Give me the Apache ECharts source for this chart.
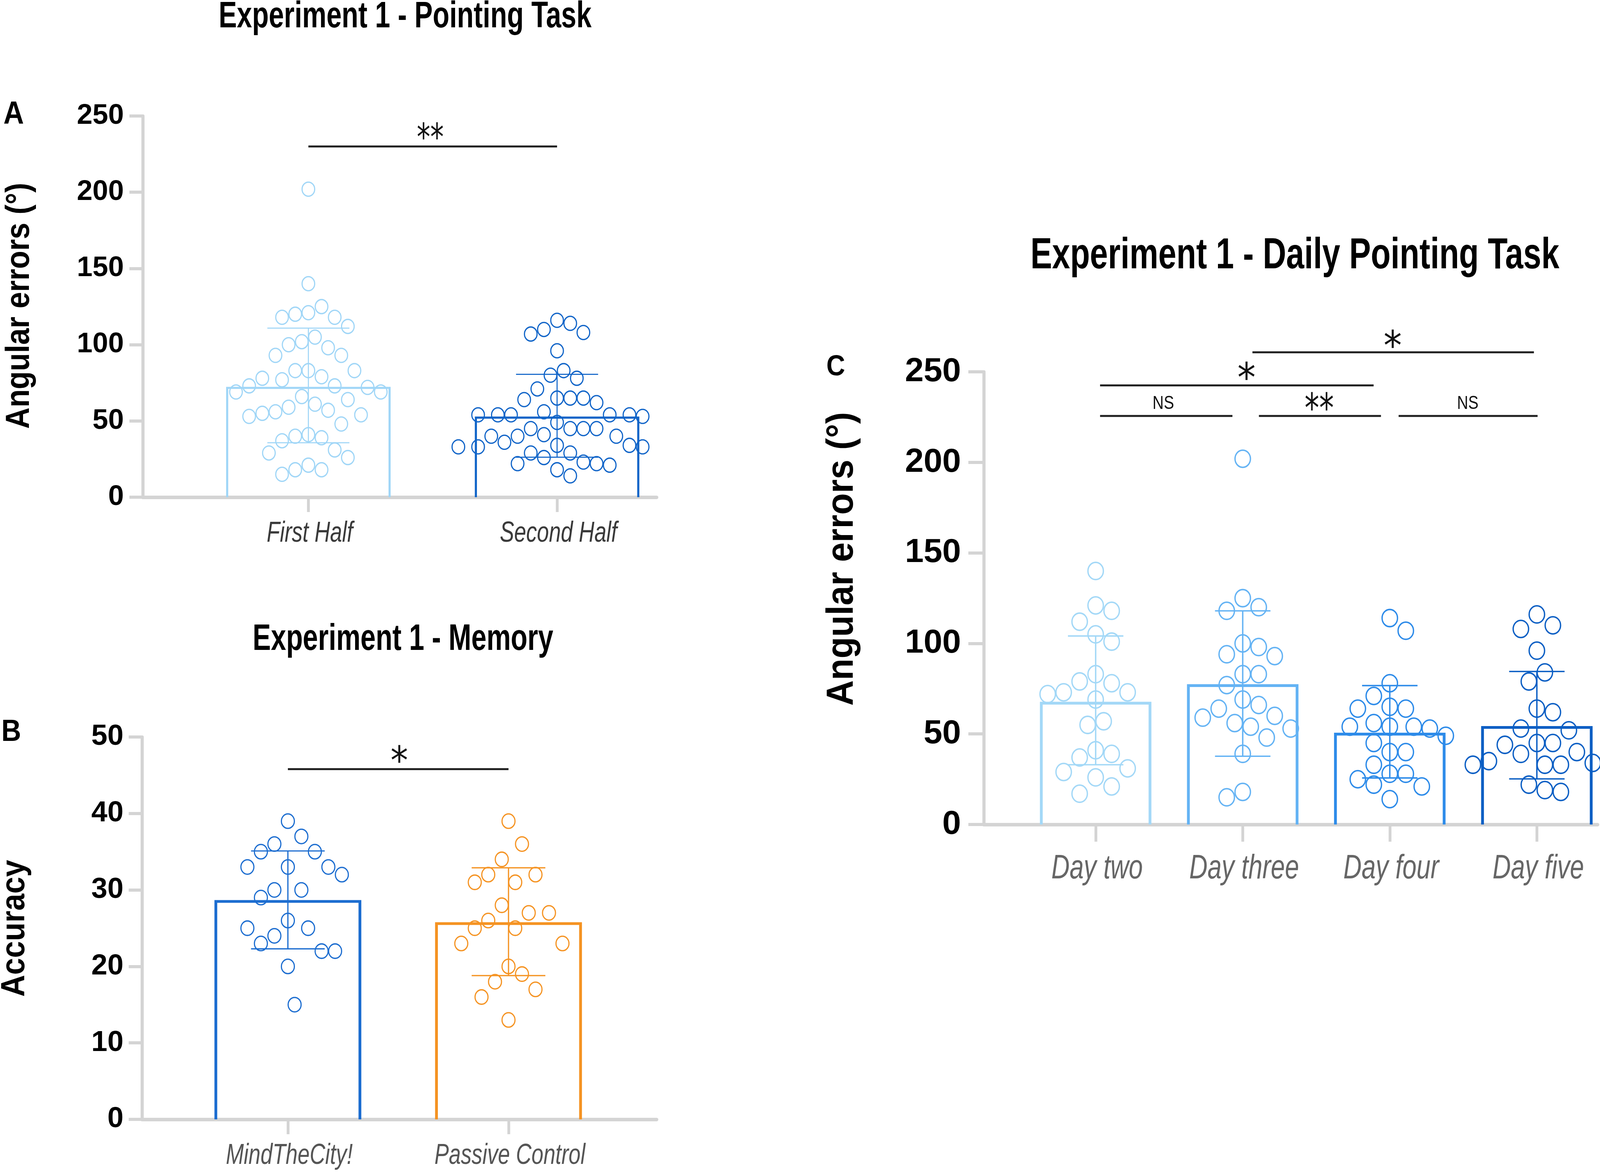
<!DOCTYPE html>
<html><head><meta charset="utf-8">
<script src="https://cdn.jsdelivr.net/npm/echarts@6/dist/echarts.min.js"></script>
<style>html,body{margin:0;padding:0;background:#fff;overflow:hidden}#c{position:absolute;left:0;top:0}</style>
</head><body><div id="c"></div>
<script>
// ================= DATA =================
// Panel A - Pointing task
const catsA = ['First Half', 'Second Half'];
const firstHalf = [202,140,125,121,118,118,120,112,105,102,98,100,93,93,83,83,79,83,77,73,72,73,78,69,69,66,64,59,57,56,54,55,61,53,48,40,39,41,37,31,29,26,21,18,18,15];
const secondHalf = [116,114,110,108,107,96,83,80,78,71,64,65,65,65,62,53,54,54,54,54,54,56,49,45,45,45,45,40,40,40,41,34,34,33,36,33,33,29,29,26,22,22,21,23,18,14];
const meanA = [71.7, 52.2];
const lowA = [35.7, 26.2];
const highA = [110.9, 80.6];
const sigLinesA = [[0, 1, 230]];
const sigLabelsA = [['**', 0.49, 239.7]];

// Panel B - Memory
const catsB = ['MindTheCity!', 'Passive Control'];
const mindTheCity = [39,37,36,35,35,33,33,33,32,30,30,29,26,25,25,24,23,22,22,20,15];
const passiveControl = [39,36,34,32,32,31,31,28,27,27,26,25,25,23,23,20,19,18,17,16,13];
const meanB = [28.5, 25.6];
const lowB = [22.3, 18.8];
const highB = [35.1, 32.9];
const sigLinesB = [[0, 1, 45.8]];
const sigLabelsB = [['*', 0.505, 47.7]];

// Panel C - Daily pointing task
const catsC = ['Day two', 'Day three', 'Day four', 'Day five'];
const dayTwo = [140,118,121,112,101,105,83,79,73,72,78,73,69,57,55,41,39,37,31,29,26,21,17];
const dayThree = [202,125,118,120,100,98,94,93,83,83,77,69,64,66,60,59,53,54,56,48,39,18,15];
const dayFour = [114,107,78,71,64,64,65,56,54,53,54,54,49,45,40,40,33,28,28,25,22,21,14];
const dayFive = [116,110,108,96,84,79,64,62,53,52,45,45,44,40,39,33,33,33,35,34,22,19,18];
const meanC = [67.0, 76.7, 49.9, 53.6];
const lowC = [33.0, 37.7, 25.7, 25.2];
const highC = [104.1, 118.0, 76.7, 84.5];
const sigLinesC = [[0.03,0.93,225.6],[1.11,1.94,225.6],[2.06,3.005,225.6],[0.03,1.89,242.5],[1.066,2.98,260.8]];
const sigLabelsC = [['NS',0.46,232.5],['**',1.52,233.2],['NS',2.53,232.5],['*',1.026,250],['*',2.02,267.7]];

// ================= LAYOUT / STYLE =================
const W = window.innerWidth || 4562, H = window.innerHeight || 3011;
const SX = W / 4562, SY = H / 3011, SM = Math.min(SX, SY);
const ux = v => v * SX, uy = v => v * SY, um = v => v * SM;
const el = document.getElementById('c');
el.style.width = W + 'px'; el.style.height = H + 'px';

const colA = ['#a0d6f7', '#1064c8'];
const colB = ['#1c6dd0', '#f59322'];
const colC = ['#a3d8f7', '#64b3f4', '#2d8be9', '#0c5fc4'];
const FONT = "'Liberation Sans', Arial, Helvetica, sans-serif";
const AX = '#d4d4d4';

const panels = [
  {g:0, cats:catsA, groups:[firstHalf, secondHalf], mean:meanA, low:lowA, high:highA, col:colA,
   barW:0.653, capW:0.33, barLw:6, errLw:3, sym:36, symLw:3.5, ky:[1.9, 1.5],
   sigL:sigLinesA, sigT:sigLabelsA, starSize:96, labColor:'#3a3a3a', labSize:74, labScale:0.83, labDy:93},
  {g:1, cats:catsB, groups:[mindTheCity, passiveControl], mean:meanB, low:lowB, high:highB, col:colB,
   barW:0.653, capW:0.334, barLw:8, errLw:3.5, sym:37, symLw:3.5, ky:[2.6, 2.6],
   sigL:sigLinesB, sigT:sigLabelsB, starSize:100, labColor:'#555', labSize:74, labScale:0.83, labDy:93},
  {g:2, cats:catsC, groups:[dayTwo, dayThree, dayFour, dayFive], mean:meanC, low:lowC, high:highC, col:colC,
   barW:0.739, capW:0.377, barLw:8, errLw:4, sym:44, symLw:4, ky:[1.35, 1.35, 1.1, 1.35],
   sigL:sigLinesC, sigT:sigLabelsC, starSize:104, labColor:'#666', labSize:88, labScale:0.82, labDy:114}
];

function yAxisCfg(g, max, interval, fontSize, margin, tickLen) {
  return {type:'value', gridIndex:g, min:0, max:max, interval:interval,
    axisLine:{show:true, onZero:false, lineStyle:{color:AX, width:ux(9)}},
    axisTick:{show:true, length:ux(tickLen), lineStyle:{color:AX, width:uy(8)}},
    axisLabel:{fontFamily:FONT, fontWeight:'bold', fontSize:uy(fontSize), color:'#000', margin:ux(margin)},
    splitLine:{show:false}};
}
function xAxisCfg(g, min, max, n, tickLen) {
  const vals = []; for (let i = 0; i < n; i++) vals.push(i);
  return {type:'value', gridIndex:g, min:min, max:max,
    axisLine:{show:true, onZero:false, lineStyle:{color:AX, width:uy(9)}},
    axisTick:{show:true, customValues:vals, length:uy(tickLen), lineStyle:{color:AX, width:ux(8)}},
    axisLabel:{show:false}, splitLine:{show:false}};
}

const series = [];
panels.forEach(P => {
  series.push({type:'custom', xAxisIndex:P.g, yAxisIndex:P.g, z:2, silent:true,
    data:P.mean.map((m,i)=>[i,m]),
    renderItem:function(params, api){
      const i = api.value(0), m = api.value(1);
      const a = api.coord([i - P.barW/2, 0]), b = api.coord([i + P.barW/2, m]);
      return {type:'polyline', shape:{points:[[a[0],a[1]],[a[0],b[1]],[b[0],b[1]],[b[0],a[1]]]},
        style:{stroke:P.col[i], lineWidth:um(P.barLw), fill:null, lineJoin:'miter'}};
    }});
  P.groups.forEach((grp, k) => {
    series.push({id:'s'+P.g+'_'+k, type:'scatter', xAxisIndex:P.g, yAxisIndex:P.g, z:3, silent:true,
      symbol:'circle', symbolSize:[ux(P.sym), uy(P.sym)], data:[],
      itemStyle:{color:'rgba(255,255,255,0)', borderColor:P.col[k], borderWidth:um(P.symLw), opacity:1}});
  });
  series.push({type:'custom', xAxisIndex:P.g, yAxisIndex:P.g, z:4, silent:true,
    data:P.mean.map((m,i)=>[i,P.low[i],P.high[i]]),
    renderItem:function(params, api){
      const i = api.value(0);
      const lo = api.coord([i, api.value(1)]), hi = api.coord([i, api.value(2)]);
      const l = api.coord([i - P.capW/2, 0])[0], r = api.coord([i + P.capW/2, 0])[0];
      const st = {stroke:P.col[i], lineWidth:um(P.errLw)};
      return {type:'group', children:[
        {type:'line', shape:{x1:lo[0],y1:lo[1],x2:hi[0],y2:hi[1]}, style:st},
        {type:'line', shape:{x1:l,y1:hi[1],x2:r,y2:hi[1]}, style:st},
        {type:'line', shape:{x1:l,y1:lo[1],x2:r,y2:lo[1]}, style:st}
      ]};
    }});
  series.push({type:'custom', xAxisIndex:P.g, yAxisIndex:P.g, z:5, silent:true, clip:false,
    data:P.sigL,
    renderItem:function(params, api){
      const a = api.coord([api.value(0), api.value(2)]), b = api.coord([api.value(1), api.value(2)]);
      return {type:'line', shape:{x1:a[0],y1:a[1],x2:b[0],y2:b[1]}, style:{stroke:'#1e1e1e', lineWidth:uy(5)}};
    }});
  series.push({type:'custom', xAxisIndex:P.g, yAxisIndex:P.g, z:5, silent:true, clip:false,
    data:P.sigT.map(t=>[t[1], t[2]]),
    renderItem:function(params, api){
      const txt = P.sigT[params.dataIndex][0];
      const p = api.coord([api.value(0), api.value(1)]);
      const isNS = txt === 'NS';
      const fs = uy(isNS ? 49 : P.starSize);
      const sx = (isNS ? 0.9 : (txt.length > 1 ? 0.8 : 1)) * SX / SY;
      return {type:'text', x:p[0], y:p[1] + (isNS ? 0 : 0.235*fs), scaleX:sx,
        style:{text:txt, fontSize:fs, fontFamily: isNS ? FONT : "'DejaVu Sans', sans-serif",
          fill:'#111', align:'center', verticalAlign:'middle'}};
    }});
});

const option = {
  animation:false,
  backgroundColor:'#ffffff',
  grid:[
    {left:ux(407), top:uy(297), width:ux(1465), height:uy(976)},
    {left:ux(405), top:uy(1887), width:ux(1467), height:uy(979)},
    {left:ux(2805), top:uy(952), width:ux(1750), height:uy(1159)}
  ],
  xAxis:[
    xAxisCfg(0, -0.666, 1.4, catsA.length, 38),
    xAxisCfg(1, -0.661, 1.671, catsB.length, 38),
    xAxisCfg(2, -0.7607, 3.4126, catsC.length, 44)
  ],
  yAxis:[
    yAxisCfg(0, 250, 50, 72, 54, 38),
    yAxisCfg(1, 50, 10, 74, 53, 38),
    yAxisCfg(2, 250, 50, 86, 65, 44)
  ],
  series:series
};

const chart = echarts.init(el, null, {renderer:'canvas', width:W, height:H});
chart.setOption(option);

// ---- beeswarm placement through the axis scales ----
function swarm(vals, center, pxX, pxY, dX, dY, ky) {
  const order = vals.map((v,i)=>i).sort((a,b)=>vals[b]-vals[a]);
  const placed = [], out = new Array(vals.length);
  const step = dX * 0.5; let flip = 1;
  order.forEach(i => {
    const y = vals[i] * pxY;
    let best = null;
    for (let k = 0; k < 80 && best === null; k++) {
      const cands = k === 0 ? [0] : [flip*k*step, -flip*k*step];
      for (const x of cands) {
        let ok = true;
        for (const p of placed) {
          const dx = (x - p[0]) / dX, dy = (y - p[1]) / (dY * ky);
          if (dx*dx + dy*dy < 1) { ok = false; break; }
        }
        if (ok) { best = x; break; }
      }
    }
    if (best !== 0) flip = -flip;
    placed.push([best, y]);
    out[i] = [center + best / pxX, vals[i]];
  });
  return out;
}

const upd = [];
const graphics = [];
panels.forEach(P => {
  const x0 = chart.convertToPixel({xAxisIndex:P.g}, 0), x1 = chart.convertToPixel({xAxisIndex:P.g}, 1);
  const y0 = chart.convertToPixel({yAxisIndex:P.g}, 0), y1 = chart.convertToPixel({yAxisIndex:P.g}, 10);
  const pxX = x1 - x0, pxY = (y0 - y1) / 10;
  P.groups.forEach((grp, k) => {
    const d = (P.sym + P.symLw) * 0.95;
    upd.push({id:'s'+P.g+'_'+k, data: swarm(grp, k, pxX, pxY, ux(d), uy(d), P.ky[k])});
  });
  P.cats.forEach((c, i) => {
    const cx = chart.convertToPixel({xAxisIndex:P.g}, i);
    graphics.push({type:'text', x:cx + ux(4), y:y0 + uy(P.labDy), scaleX:P.labScale * SX / SY, silent:true,
      style:{text:c, fontFamily:FONT, fontStyle:'italic', fontSize:uy(P.labSize), fill:P.labColor, align:'center', verticalAlign:'middle'}});
  });
});

function txt(t, x, y, fs, sx) {
  return {type:'text', x:ux(x), y:uy(y), scaleX:sx * SX / SY, silent:true,
    style:{text:t, fontFamily:FONT, fontWeight:'bold', fontSize:uy(fs), fill:'#000', align:'center', verticalAlign:'middle'}};
}
function vtxt(t, x, y, fs, sx) {
  return {type:'text', x:ux(x), y:uy(y), scaleX:sx * SY / SX, rotation:Math.PI/2, silent:true,
    style:{text:t, fontFamily:FONT, fontWeight:'bold', fontSize:ux(fs), fill:'#000', align:'center', verticalAlign:'middle'}};
}
graphics.push(
  txt('Experiment 1 - Pointing Task', 1155, 44, 95, 0.82),
  txt('Experiment 1 - Memory', 1149, 1638, 95, 0.82),
  txt('Experiment 1 - Daily Pointing Task', 3692, 656, 112, 0.825),
  txt('A', 39, 294, 81, 1),
  txt('B', 32, 1875, 78, 1),
  txt('C', 2383, 941, 74, 1),
  vtxt('Angular errors (°)', 56, 783, 95, 0.80),
  vtxt('Accuracy', 43, 2377, 95, 0.82),
  vtxt('Angular errors (°)', 2402, 1431, 108, 0.84)
);

chart.setOption({series:upd, graphic:graphics});
</script></body></html>
